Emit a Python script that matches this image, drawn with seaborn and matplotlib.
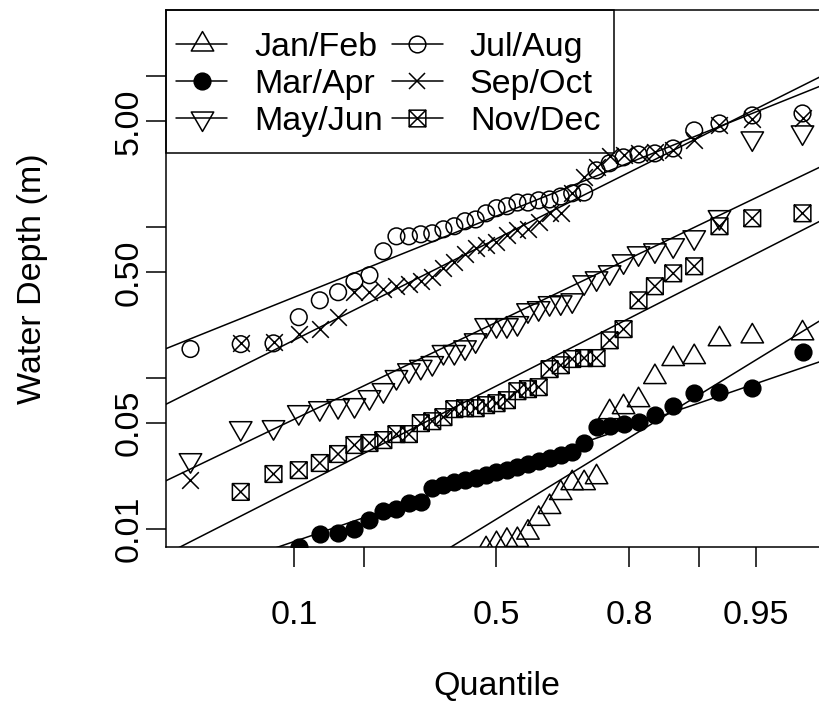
import math
from statistics import NormalDist

import numpy as np
import pandas as pd
import matplotlib
matplotlib.use("Agg")
import matplotlib.pyplot as plt
from matplotlib.lines import Line2D
from matplotlib.path import Path
from matplotlib.patches import Rectangle
from matplotlib.ticker import NullLocator, FixedLocator, FixedFormatter
import seaborn as sns

# ---------------------------------------------------------------- data
nan = np.nan
months = ["Jan/Feb", "Mar/Apr", "May/Jun", "Jul/Aug", "Sep/Oct", "Nov/Dec"]

# ordered water depths (m) for each two-month period; nan = below the axis floor
jan_feb = [nan] * 17 + [0.0073, 0.0079, 0.0083, 0.0084, 0.0094, 0.0116, 0.0139,
                        0.0172, 0.0200, 0.0200, 0.0219, 0.0591, 0.0638, 0.0710,
                        0.101, 0.133, 0.137, 0.180, 0.188, 0.197]
mar_apr = [nan, nan, nan, 0.0075, 0.0092, 0.0094, 0.0099, 0.0114, 0.0131, 0.0135,
           0.0148, 0.0150, 0.0186, 0.0194, 0.0203, 0.0210, 0.0216, 0.0226, 0.0237,
           0.0244, 0.0256, 0.0268, 0.0280, 0.0293, 0.0307, 0.0321, 0.0369, 0.0470,
           0.0478, 0.0492, 0.0508, 0.0565, 0.0648, 0.0790, 0.0803, 0.0853, 0.148]
may_jun = [0.0284, 0.0463, 0.0470, 0.0591, 0.0628, 0.0648, 0.0658, 0.0743, 0.0827,
           0.101, 0.112, 0.118, 0.125, 0.148, 0.148, 0.159, 0.177, 0.223, 0.223,
           0.223, 0.230, 0.280, 0.289, 0.312, 0.316, 0.326, 0.429, 0.456, 0.500,
           0.591, 0.668, 0.699, 0.755, 0.853, 1.16, 3.86, 4.23]
jul_aug = [0.155, 0.167, 0.169, 0.252, 0.326, 0.369, 0.436, 0.478, 0.689, 0.866,
           0.866, 0.893, 0.907, 0.964, 1.01, 1.09, 1.12, 1.23, 1.33, 1.37, 1.45,
           1.45, 1.50, 1.52, 1.59, 1.67, 1.69, 2.37, 2.64, 2.89, 3.02, 3.07, 3.31,
           4.36, 4.85, 5.48, 5.65]
sep_oct = [0.021, 0.169, 0.172, 0.194, 0.210, 0.252, 0.369, 0.369, 0.386, 0.404,
           0.417, 0.436, 0.463, 0.532, 0.582, 0.658, 0.721, 0.755, 0.790, 0.879,
           0.949, 0.964, 1.07, 1.23, 1.23, 1.69, 2.13, 2.48, 2.93, 2.98, 3.07,
           3.12, 3.21, 3.74, 4.70, 5.16, 5.23]
nov_dec = [nan, 0.0175, 0.0230, 0.0244, 0.0272, 0.0312, 0.0358, 0.0369, 0.0386,
           0.0423, 0.0423, 0.0500, 0.0515, 0.0548, 0.0619, 0.0628, 0.0628, 0.0658,
           0.0678, 0.0710, 0.0814, 0.0840, 0.0866, 0.114, 0.121, 0.133, 0.135,
           0.135, 0.177, 0.210, 0.326, 0.404, 0.492, 0.548, 1.01, 1.14, 1.23]

# fitted lognormal lines: log10(depth) = intercept + slope * z
fit_intercept = [-1.937, -1.627, -0.632, 0.072, -0.079, -1.054]
fit_slope = [0.642, 0.358, 0.502, 0.420, 0.524, 0.533]

x_ticks = [0.1, 0.2, 0.5, 0.8, 0.9, 0.95]
x_ticklabels = ["0.1", "", "0.5", "0.8", "", "0.95"]
y_ticks = [0.01, 0.05, 0.1, 0.5, 1, 5, 10]
y_ticklabels = ["0.01", "0.05", "", "0.50", "", "5.00", ""]

# ---------------------------------------------------------------- probit scale
_nd = NormalDist()
_inv = np.vectorize(lambda p: _nd.inv_cdf(p) if np.isfinite(p) else np.nan, otypes=[float])
_cdf = np.vectorize(lambda z: 0.5 * (1.0 + math.erf(z / math.sqrt(2.0))) if np.isfinite(z) else np.nan,
                    otypes=[float])


def probit(p):
    p = np.clip(np.asarray(p, dtype=float), 1e-12, 1 - 1e-12)
    return _inv(p)


def inv_probit(z):
    return _cdf(np.asarray(z, dtype=float))


series = [jan_feb, mar_apr, may_jun, jul_aug, sep_oct, nov_dec]
frames = []
for name, vals in zip(months, series):
    n = len(vals)
    frames.append(pd.DataFrame({"period": name,
                                "quantile": np.arange(1, n + 1) / (n + 1),
                                "depth": vals}))
df = pd.concat(frames, ignore_index=True)

# ---------------------------------------------------------------- markers
R = 6.0  # symbol radius in points
tri_up = Path([(0, 1.555), (1.347, -0.778), (-1.347, -0.778), (0, 1.555)],
              [Path.MOVETO, Path.LINETO, Path.LINETO, Path.CLOSEPOLY])
tri_dn = Path([(0, -1.555), (1.347, 0.778), (-1.347, 0.778), (0, -1.555)],
              [Path.MOVETO, Path.LINETO, Path.LINETO, Path.CLOSEPOLY])
box_x = Path([(-1, -1), (1, -1), (1, 1), (-1, 1), (-1, -1),
              (-1, -1), (1, 1), (-1, 1), (1, -1)],
             [Path.MOVETO, Path.LINETO, Path.LINETO, Path.LINETO, Path.CLOSEPOLY,
              Path.MOVETO, Path.LINETO, Path.MOVETO, Path.LINETO])

styles = {
    "Jan/Feb": dict(marker=tri_up, ms=3.11 * R, fill="none"),
    "Mar/Apr": dict(marker="o", ms=2.0 * R, fill="black"),
    "May/Jun": dict(marker=tri_dn, ms=3.11 * R, fill="none"),
    "Jul/Aug": dict(marker="o", ms=2.0 * R, fill="none"),
    "Sep/Oct": dict(marker="x", ms=2.0 * R, fill=None),
    "Nov/Dec": dict(marker=box_x, ms=2.0 * R, fill="none"),
}

# ---------------------------------------------------------------- figure
sns.set_style("ticks")
plt.rcParams["font.family"] = ["Liberation Sans", "DejaVu Sans"]
plt.rcParams["axes.linewidth"] = 1.1
for key in ["text.color", "axes.labelcolor", "xtick.color", "ytick.color",
            "axes.edgecolor"]:
    plt.rcParams[key] = "black"

FS = 24.5
W, H = 820, 704
fig = plt.figure(figsize=(W / 100, H / 100), dpi=100)
left, right, top, bottom = 166, 827, 10, 547
ax = fig.add_axes([left / W, 1 - bottom / H, (right - left) / W, (bottom - top) / H])

LW = 1.1
zgrid = np.linspace(-2.4, 2.4, 300)
for name, a, b in zip(months, fit_intercept, fit_slope):
    sns.lineplot(x=inv_probit(zgrid), y=10 ** (a + b * zgrid), ax=ax, color="black",
                 linewidth=LW, sort=False, estimator=None)

for name in months:
    st = styles[name]
    sub = df[df["period"] == name].dropna()
    kw = dict(marker=st["marker"], s=st["ms"] ** 2, linewidth=LW, zorder=3)
    if st["fill"] is None:
        kw["color"] = "black"
    else:
        kw["facecolor"] = st["fill"]
        kw["edgecolor"] = "black"
    sns.scatterplot(data=sub, x="quantile", y="depth", ax=ax, legend=False, **kw)

ax.set_xscale("function", functions=(probit, inv_probit))
ax.set_yscale("log")
ax.set_xlim(inv_probit(-2.093), inv_probit(2.093))
ax.set_ylim(0.00755, 27.4)

ax.xaxis.set_major_locator(FixedLocator(x_ticks))
ax.xaxis.set_major_formatter(FixedFormatter(x_ticklabels))
ax.xaxis.set_minor_locator(NullLocator())
ax.yaxis.set_major_locator(FixedLocator(y_ticks))
ax.yaxis.set_major_formatter(FixedFormatter(y_ticklabels))
ax.yaxis.set_minor_locator(NullLocator())

ax.tick_params(axis="both", which="major", length=14.4, width=LW, color="black",
               labelsize=FS, labelcolor="black")
ax.tick_params(axis="x", pad=24)
ax.tick_params(axis="y", pad=1)
for lab in ax.get_yticklabels():
    lab.set_rotation(90)
    lab.set_verticalalignment("center")

for side in ["left", "bottom", "top"]:
    ax.spines[side].set_visible(True)
    ax.spines[side].set_color("black")
    ax.spines[side].set_linewidth(LW)
ax.spines["right"].set_visible(False)

ax.set_xlabel("Quantile", fontsize=FS)
ax.set_ylabel("Water Depth (m)", fontsize=FS)
ax.xaxis.set_label_coords(0.5, -(671 - bottom) / (bottom - top))
ax.yaxis.set_label_coords(-(left - 48) / (right - left), 0.5)

# legend: symbol + line keys in two columns inside a plain box
handles = []
for name in months:
    st = styles[name]
    kw = dict(color="black", lw=LW, marker=st["marker"], markersize=st["ms"],
              mew=LW, mec="black")
    if st["fill"] is not None:
        kw["mfc"] = st["fill"]
    handles.append(Line2D([0], [0], **kw))

leg = ax.legend(handles, months, ncol=2, loc="upper left",
                bbox_to_anchor=(176 / W, 1 - 32 / H), bbox_transform=fig.transFigure,
                borderaxespad=0, borderpad=0, fontsize=FS, frameon=False,
                handlelength=1.5, handletextpad=0.8, columnspacing=0.25,
                labelspacing=0.18)
ax.add_patch(Rectangle((left / W, 1 - 153 / H), (614 - left) / W, (153 - top) / H,
                       transform=fig.transFigure, facecolor="none", edgecolor="black",
                       linewidth=LW, zorder=5, clip_on=False))

fig.savefig("out.png", dpi=100, facecolor="white")
